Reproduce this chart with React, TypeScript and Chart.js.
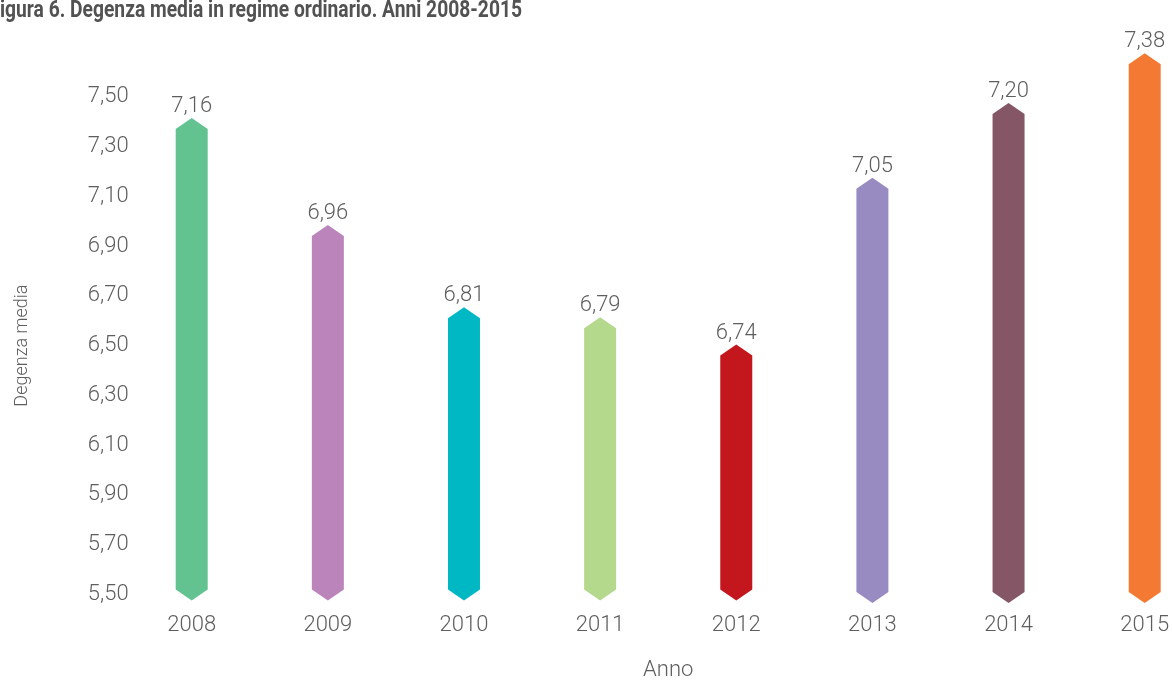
import React, { useEffect, useRef } from "react";
import { Chart, registerables } from "chart.js";

Chart.register(...registerables);

// ---- data ----
const years = ["2008", "2009", "2010", "2011", "2012", "2013", "2014", "2015"];
// numbers printed above the bars
const printedValues = [7.16, 6.96, 6.81, 6.79, 6.74, 7.05, 7.2, 7.38];
// bar body (shoulder to shoulder) as drawn against the visible axis
const barBottoms = [5.52, 5.52, 5.52, 5.52, 5.52, 5.51, 5.51, 5.51];
const barTops = [7.37, 6.94, 6.61, 6.57, 6.46, 7.13, 7.43, 7.63];
const barColors = ["#62c391", "#bb84bb", "#00b8c4", "#b4d98d", "#c3161d", "#978bc2", "#845666", "#f47932"];
const yTicks = [5.5, 5.7, 5.9, 6.1, 6.3, 6.5, 6.7, 6.9, 7.1, 7.3, 7.5];
const titleText = "Figura 6. Degenza media in regime ordinario. Anni 2008-2015";
const yAxisTitle = "Degenza media";
const xAxisTitle = "Anno";

const fmt = (v: number) => v.toFixed(2).replace(".", ",");

const TEXT = "#5e5e5e";
const FONT = "Roboto";
const TIP = 11;

const hexBarsPlugin = {
  id: "hexBars",
  afterDatasetsDraw(chart: any) {
    const ctx = chart.ctx;
    const meta = chart.getDatasetMeta(0);
    ctx.save();
    meta.data.forEach((el: any, i: number) => {
      const p = el.getProps(["x", "y", "base", "width"], true);
      const left = p.x - p.width / 2;
      const right = p.x + p.width / 2;
      const top = Math.min(p.y, p.base);
      const bottom = Math.max(p.y, p.base);
      ctx.beginPath();
      ctx.moveTo(left, top);
      ctx.lineTo(p.x, top - TIP);
      ctx.lineTo(right, top);
      ctx.lineTo(right, bottom);
      ctx.lineTo(p.x, bottom + TIP);
      ctx.lineTo(left, bottom);
      ctx.closePath();
      ctx.fillStyle = barColors[i];
      ctx.fill();

      ctx.font = `300 22px ${FONT}`;
      ctx.fillStyle = TEXT;
      ctx.textAlign = "center";
      ctx.textBaseline = "alphabetic";
      ctx.fillText(fmt(printedValues[i]), p.x, top - TIP - 6);
    });
    ctx.restore();
  },
};

const titlePlugin = {
  id: "cutTitle",
  afterDraw(chart: any) {
    const ctx = chart.ctx;
    ctx.save();
    ctx.font = `700 24px ${FONT}`;
    ctx.fillStyle = "#525252";
    ctx.textAlign = "left";
    ctx.textBaseline = "alphabetic";
    const full = ctx.measureText(titleText).width;
    const first = ctx.measureText(titleText.charAt(0)).width;
    const sx = 522 / (full - first);
    ctx.translate(-first * sx, 17.3);
    ctx.scale(sx, 1);
    ctx.fillText(titleText, 0, 0);
    ctx.restore();
  },
};

export default function App() {
  const ref = useRef<HTMLCanvasElement | null>(null);

  useEffect(() => {
    if (!ref.current) return;
    const chart = new Chart(ref.current, {
      type: "bar",
      data: {
        labels: years,
        datasets: [
          {
            data: barBottoms.map((b, i) => [b, barTops[i]]) as any,
            backgroundColor: "rgba(0,0,0,0)",
            borderWidth: 0,
            barThickness: 32,
          },
        ],
      },
      options: {
        animation: false,
        responsive: false,
        devicePixelRatio: 1,
        layout: { padding: { top: 96.7, right: 27.3, bottom: 0, left: 0 } },
        plugins: {
          legend: { display: false },
          tooltip: { enabled: false },
          title: { display: false },
        },
        scales: {
          x: {
            offset: false,
            grid: { display: false },
            border: { display: false },
            ticks: {
              color: TEXT,
              font: { family: FONT, size: 22, weight: "300" as any },
              padding: 10,
              maxRotation: 0,
              autoSkip: false,
            },
            title: {
              display: true,
              text: xAxisTitle,
              color: TEXT,
              font: { family: FONT, size: 22, weight: "300" as any },
              padding: { top: 0, bottom: 4 },
            },
            afterFit: (scale: any) => {
              scale.height = 688 - 594.5;
              scale.paddingLeft = 0;
              scale.paddingRight = 0;
            },
          },
          y: {
            min: yTicks[0],
            max: yTicks[yTicks.length - 1],
            grid: { display: false },
            border: { display: false },
            afterBuildTicks: (scale: any) => {
              scale.ticks = yTicks.map((v) => ({ value: v }));
            },
            ticks: {
              color: TEXT,
              font: { family: FONT, size: 22, weight: "300" as any },
              padding: 55,
              callback: (v: any) => fmt(Number(v)),
            },
            title: {
              display: true,
              text: yAxisTitle,
              color: TEXT,
              font: { family: FONT, size: 18, weight: "300" as any },
              padding: { top: 12, bottom: 0 },
            },
            afterFit: (scale: any) => {
              scale.width = 191.7;
            },
          },
        },
      },
      plugins: [hexBarsPlugin, titlePlugin],
    });
    return () => chart.destroy();
  }, []);

  return (
    <div style={{ position: "absolute", left: 0, top: 0, width: 1172, height: 688, background: "#fff" }}>
      <canvas ref={ref} width={1172} height={688} style={{ display: "block" }} />
    </div>
  );
}
